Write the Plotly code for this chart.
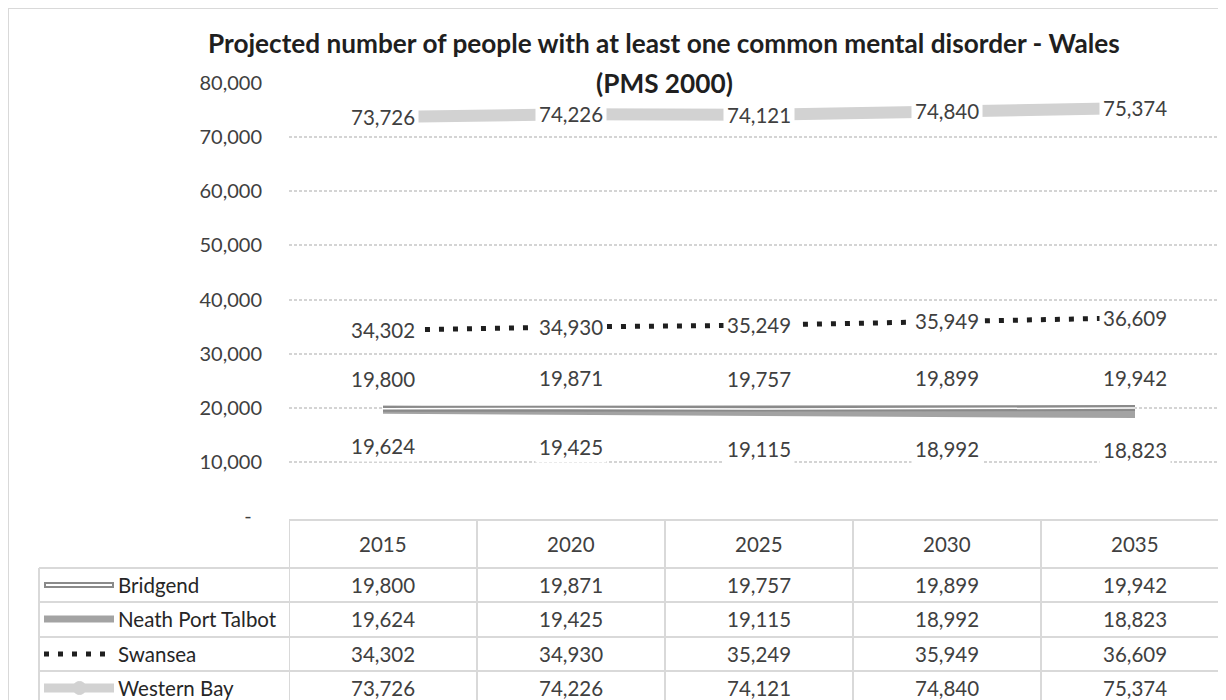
import plotly.graph_objects as go

# data
YEARS = ["2015", "2020", "2025", "2030", "2035"]
BRIDGEND = [19800, 19871, 19757, 19899, 19942]
NEATH_PORT_TALBOT = [19624, 19425, 19115, 18992, 18823]
SWANSEA = [34302, 34930, 35249, 35949, 36609]
WESTERN_BAY = [73726, 74226, 74121, 74840, 75374]
SERIES_NAMES = ["Bridgend", "Neath Port Talbot", "Swansea", "Western Bay"]
Y_TICKS = [0, 10000, 20000, 30000, 40000, 50000, 60000, 70000, 80000]
TITLE_1 = "Projected number of people with at least one common mental disorder - Wales"
TITLE_2 = "(PMS 2000)"

# the page body has an 8px margin, so the figure is 8px smaller than the window
OFF = 8
W, H = 1226 - OFF, 700 - OFF
L, R, T, B = 289 - OFF, 0, 83 - OFF, 184
PW, PH = W - L - R, H - T - B

FONT = "Lato, 'Open Sans', sans-serif"
TXT = "#404040"
GRID = "#d4d4d4"
TABLE_LINE = "#d9d9d9"
FS = 20.5


def fx(px):
    # screen px -> paper x
    return (px - OFF - L) / PW


def fy(py):
    # screen px (from top) -> paper y
    return (H - B - (py - OFF)) / PH


fig = go.Figure()
xi = list(range(len(YEARS)))

# lines (NPT under Bridgend)
fig.add_trace(go.Scatter(x=xi, y=NEATH_PORT_TALBOT, mode="lines",
                         line=dict(color="#a3a3a3", width=8), hoverinfo="skip"))
fig.add_trace(go.Scatter(x=xi, y=BRIDGEND, mode="lines",
                         line=dict(color="#8a8a8a", width=6), hoverinfo="skip"))
fig.add_trace(go.Scatter(x=xi, y=BRIDGEND, mode="lines",
                         line=dict(color="white", width=1.5), hoverinfo="skip"))
fig.add_trace(go.Scatter(x=xi, y=SWANSEA, mode="lines",
                         line=dict(color="#1f1f1f", width=5, dash="5px,9px"),
                         hoverinfo="skip"))
fig.add_trace(go.Scatter(x=xi, y=WESTERN_BAY, mode="lines",
                         line=dict(color="#d2d2d2", width=12), hoverinfo="skip"))

annotations = []

# data labels
label_sets = [(BRIDGEND, -30), (NEATH_PORT_TALBOT, 36), (SWANSEA, 0), (WESTERN_BAY, 0)]
for values, shift in label_sets:
    for i, v in zip(xi, values):
        annotations.append(dict(
            x=i, y=v, xref="x", yref="y", text=f"{v:,}", showarrow=False,
            xanchor="center", yanchor="middle",
            yshift=-shift, bgcolor="white", borderpad=3,
            font=dict(family=FONT, size=FS, color=TXT)))

# title
for txt, ty in [(TITLE_1, 43), (TITLE_2, 83)]:
    annotations.append(dict(x=fx(664), y=fy(ty), xref="paper", yref="paper", text=f"<b>{txt}</b>",
                            showarrow=False, xanchor="center", yanchor="middle",
                            font=dict(family=FONT, size=26.2, color="#1f1f1f")))

# data table
HEADER_Y = 544
ROW_Y = [585, 619, 654, 688]
for i, yr in zip(xi, YEARS):
    annotations.append(dict(x=i, y=fy(HEADER_Y), xref="x", yref="paper", text=yr,
                            showarrow=False, xanchor="center", yanchor="middle",
                            font=dict(family=FONT, size=FS, color=TXT)))
for name, values, ry in zip(SERIES_NAMES, [BRIDGEND, NEATH_PORT_TALBOT, SWANSEA, WESTERN_BAY], ROW_Y):
    annotations.append(dict(x=fx(116), y=fy(ry), xref="paper", yref="paper", text=name,
                            showarrow=False, xanchor="left", yanchor="middle",
                            font=dict(family=FONT, size=FS, color="#262626")))
    for i, v in zip(xi, values):
        annotations.append(dict(x=i, y=fy(ry), xref="x", yref="paper", text=f"{v:,}",
                                showarrow=False, xanchor="center", yanchor="middle",
                                font=dict(family=FONT, size=FS, color=TXT)))

shapes = []
# outer chart border
shapes.append(dict(type="rect", xref="paper", yref="paper", x0=fx(8), x1=fx(1300),
                   y0=fy(780), y1=fy(8), line=dict(color="#d9d9d9", width=2), layer="below"))
# table grid
shapes.append(dict(type="line", xref="paper", yref="paper", x0=0, x1=1.2,
                   y0=fy(520), y1=fy(520), line=dict(color=TABLE_LINE, width=2)))
for ly in [568, 602, 637, 671]:
    shapes.append(dict(type="line", xref="paper", yref="paper", x0=fx(39), x1=1.2,
                       y0=fy(ly), y1=fy(ly), line=dict(color=TABLE_LINE, width=2)))
for i in range(len(YEARS) + 1):
    shapes.append(dict(type="line", xref="x", yref="paper", x0=i - 0.5, x1=i - 0.5,
                       y0=fy(520), y1=fy(720), line=dict(color=TABLE_LINE, width=2)))
shapes.append(dict(type="line", xref="paper", yref="paper", x0=fx(39), x1=fx(39),
                   y0=fy(568), y1=fy(720), line=dict(color=TABLE_LINE, width=2)))

# legend keys in table
k0, k1 = fx(44), fx(114)
shapes.append(dict(type="line", xref="paper", yref="paper", x0=k0, x1=k1, y0=fy(ROW_Y[0]), y1=fy(ROW_Y[0]),
                   line=dict(color="#8a8a8a", width=6)))
shapes.append(dict(type="line", xref="paper", yref="paper", x0=fx(46), x1=fx(112), y0=fy(ROW_Y[0]), y1=fy(ROW_Y[0]),
                   line=dict(color="white", width=2)))
shapes.append(dict(type="line", xref="paper", yref="paper", x0=k0, x1=k1, y0=fy(ROW_Y[1]), y1=fy(ROW_Y[1]),
                   line=dict(color="#a3a3a3", width=7)))
shapes.append(dict(type="line", xref="paper", yref="paper", x0=k0, x1=k1, y0=fy(ROW_Y[2]), y1=fy(ROW_Y[2]),
                   line=dict(color="#1f1f1f", width=5, dash="5px,9px")))
shapes.append(dict(type="line", xref="paper", yref="paper", x0=k0, x1=k1, y0=fy(ROW_Y[3]), y1=fy(ROW_Y[3]),
                   line=dict(color="#d2d2d2", width=9)))
shapes.append(dict(type="circle", xref="paper", yref="paper", x0=fx(73), x1=fx(86),
                   y0=fy(ROW_Y[3] + 6.5), y1=fy(ROW_Y[3] - 6.5),
                   fillcolor="#d2d2d2", line=dict(color="#d2d2d2", width=1)))

fig.update_layout(
    width=W, height=H,
    margin=dict(l=L, r=R, t=T, b=B, pad=0, autoexpand=False),
    paper_bgcolor="white", plot_bgcolor="white",
    showlegend=False,
    annotations=annotations,
    shapes=shapes,
    xaxis=dict(range=[-0.5, 4.484], showgrid=False, showticklabels=False,
               zeroline=False, showline=False, fixedrange=True, automargin=False),
    yaxis=dict(range=[0, 80000], tickvals=Y_TICKS,
               ticktext=[f"{v:,}" if v else "-\u00a0\u00a0" for v in Y_TICKS],
               showgrid=True, gridcolor=GRID, gridwidth=2, griddash="3px,2px",
               zeroline=False, showline=False, ticks="", ticklabelstandoff=26,
               automargin=False,
               tickfont=dict(family=FONT, size=20, color=TXT), fixedrange=True),
)

fig.write_html("out.html")
